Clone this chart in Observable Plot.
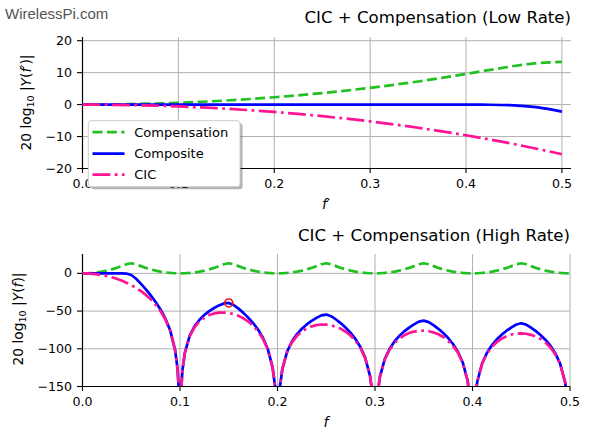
<!DOCTYPE html>
<html>
<head>
<meta charset="utf-8">
<script src="https://cdn.jsdelivr.net/npm/d3@7"></script>
<script src="https://cdn.jsdelivr.net/npm/@observablehq/plot@0.6"></script>
<style>
  html, body { margin: 0; padding: 0; background: #fff; }
  #wrap { position: relative; width: 589px; height: 440px; overflow: hidden; }
  #wrap > * { position: absolute; left: 0; }
  #overlay { top: 0; pointer-events: none; }
</style>
</head>
<body>
<div id="wrap"></div>
<script>
// ---------- Low rate (top panel) ----------
const lowF = [0, 0.025, 0.05, 0.075, 0.1, 0.125, 0.15, 0.175, 0.2, 0.225, 0.25, 0.275, 0.3, 0.325, 0.35, 0.375, 0.4, 0.425, 0.45, 0.475, 0.5];
const lowComp = [0, 0.036, 0.142, 0.319, 0.568, 0.889, 1.283, 1.750, 2.294, 2.914, 3.613, 4.392, 5.254, 6.201, 7.237, 8.365, 9.589, 10.86, 12.09, 13.04, 13.35];
const lowComposite = [0, 0, 0, 0, 0, 0, 0, 0, 0, 0, 0, 0, 0, 0, 0, 0, 0, -0.05, -0.25, -0.85, -2.2];
const lowCIC = [0, -0.036, -0.142, -0.319, -0.568, -0.889, -1.283, -1.750, -2.294, -2.914, -3.613, -4.392, -5.254, -6.201, -7.237, -8.365, -9.589, -10.913, -12.344, -13.886, -15.546];

// ---------- High rate (bottom panel) ----------
const highF = [
  0, 0.005, 0.01, 0.015, 0.02, 0.025, 0.03, 0.035, 0.04, 0.045, 0.05, 0.055, 0.06, 0.065, 0.07, 0.075, 0.08, 0.085, 0.09, 0.095,
  0.0975, 0.099, 0.101, 0.1025,
  0.105, 0.11, 0.115, 0.12, 0.125, 0.13, 0.135, 0.14, 0.145, 0.15, 0.155, 0.16, 0.165, 0.17, 0.175, 0.18, 0.185, 0.19, 0.195,
  0.1975, 0.199, 0.201, 0.2025,
  0.205, 0.21, 0.215, 0.22, 0.225, 0.23, 0.235, 0.24, 0.245, 0.25, 0.255, 0.26, 0.265, 0.27, 0.275, 0.28, 0.285, 0.29, 0.295,
  0.2975, 0.3025,
  0.305, 0.31, 0.315, 0.32, 0.325, 0.33, 0.335, 0.34, 0.345, 0.35, 0.355, 0.36, 0.365, 0.37, 0.375, 0.38, 0.385, 0.39, 0.395,
  0.3975, 0.4025,
  0.405, 0.41, 0.415, 0.42, 0.425, 0.43, 0.435, 0.44, 0.445, 0.45, 0.455, 0.46, 0.465, 0.47, 0.475, 0.48, 0.485, 0.49, 0.495,
  0.4975
];
const highCIC = [
  0, -0.142, -0.568, -1.283, -2.294, -3.613, -5.254, -7.237, -9.589, -12.344, -15.546, -19.26, -23.56, -28.57, -34.46, -41.50, -50.11, -61.15, -76.45, -101.93,
  -126.78, -159.09, -159.77, -128.46,
  -105.29, -83.19, -71.30, -63.74, -58.67, -55.28, -53.16, -52.08, -51.90, -52.56, -54.05, -56.37, -59.61, -63.90, -69.49, -76.78, -86.60, -100.79, -125.23,
  -149.59, -181.6, -182.1, -150.34,
  -126.73, -103.79, -91.12, -82.82, -77.04, -73.00, -70.25, -68.58, -67.84, -67.96, -68.93, -70.76, -73.53, -77.37, -82.52, -89.40, -98.82, -112.62, -136.69,
  -160.87, -161.26,
  -137.48, -114.21, -101.20, -92.58, -86.50, -82.15, -79.12, -77.16, -76.14, -75.99, -76.69, -78.27, -80.79, -84.38, -89.29, -95.93, -105.12, -118.68, -142.53,
  -166.60, -166.76,
  -142.88, -119.39, -106.18, -97.35, -91.07, -86.52, -83.28, -81.12, -79.91, -79.57, -80.08, -81.47, -83.80, -87.21, -91.93, -98.39, -107.40, -120.78, -144.45,
  -168.43
];
const highComposite = [
  0, 0, 0, 0, 0, 0, 0, 0, 0, -0.25, -2.20, -7.17, -13.97, -21.33, -29.21, -37.89, -47.82, -59.87, -75.88, -101.79,
  -126.74, -159.05, -159.73, -128.42,
  -105.15, -82.62, -70.02, -61.45, -55.06, -50.03, -45.92, -42.49, -39.81, -39.21, -41.96, -46.78, -52.37, -58.65, -65.88, -74.49, -85.32, -100.22, -125.09,
  -149.55, -181.6, -182.1, -150.30,
  -126.59, -103.22, -89.84, -80.53, -73.43, -67.75, -63.01, -58.99, -55.75, -54.61, -56.84, -61.17, -66.29, -72.12, -78.91, -87.11, -97.54, -112.05, -136.55,
  -160.83, -161.22,
  -137.34, -113.64, -99.92, -90.29, -82.89, -76.90, -71.88, -67.57, -64.05, -62.64, -64.60, -68.68, -73.55, -79.13, -85.68, -93.64, -103.84, -118.11, -142.39,
  -166.56, -166.72,
  -142.74, -118.82, -104.90, -95.06, -87.46, -81.27, -76.04, -71.53, -67.82, -66.22, -67.99, -71.88, -76.56, -81.96, -88.32, -96.10, -106.12, -120.21, -144.31,
  -168.39
];
const highCompF = [
  0, 0.005, 0.01, 0.015, 0.02, 0.025, 0.03, 0.035, 0.04, 0.045, 0.05, 0.055, 0.06, 0.065, 0.07, 0.075, 0.08, 0.085, 0.09, 0.095,
  0.1, 0.105, 0.11, 0.115, 0.12, 0.125, 0.13, 0.135, 0.14, 0.145, 0.15, 0.155, 0.16, 0.165, 0.17, 0.175, 0.18, 0.185, 0.19, 0.195,
  0.2, 0.205, 0.21, 0.215, 0.22, 0.225, 0.23, 0.235, 0.24, 0.245, 0.25, 0.255, 0.26, 0.265, 0.27, 0.275, 0.28, 0.285, 0.29, 0.295,
  0.3, 0.305, 0.31, 0.315, 0.32, 0.325, 0.33, 0.335, 0.34, 0.345, 0.35, 0.355, 0.36, 0.365, 0.37, 0.375, 0.38, 0.385, 0.39, 0.395,
  0.4, 0.405, 0.41, 0.415, 0.42, 0.425, 0.43, 0.435, 0.44, 0.445, 0.45, 0.455, 0.46, 0.465, 0.47, 0.475, 0.48, 0.485, 0.49, 0.495,
  0.5
];
const highComp = [
  0, 0.142, 0.568, 1.283, 2.294, 3.613, 5.254, 7.237, 9.589, 12.09, 13.35, 12.09, 9.589, 7.237, 5.254, 3.613, 2.294, 1.283, 0.568, 0.142,
  0, 0.142, 0.568, 1.283, 2.294, 3.613, 5.254, 7.237, 9.589, 12.09, 13.35, 12.09, 9.589, 7.237, 5.254, 3.613, 2.294, 1.283, 0.568, 0.142,
  0, 0.142, 0.568, 1.283, 2.294, 3.613, 5.254, 7.237, 9.589, 12.09, 13.35, 12.09, 9.589, 7.237, 5.254, 3.613, 2.294, 1.283, 0.568, 0.142,
  0, 0.142, 0.568, 1.283, 2.294, 3.613, 5.254, 7.237, 9.589, 12.09, 13.35, 12.09, 9.589, 7.237, 5.254, 3.613, 2.294, 1.283, 0.568, 0.142,
  0, 0.142, 0.568, 1.283, 2.294, 3.613, 5.254, 7.237, 9.589, 12.09, 13.35, 12.09, 9.589, 7.237, 5.254, 3.613, 2.294, 1.283, 0.568, 0.142,
  0
];
const markerF = [0.15];
const markerY = [-39.2];

// ---------- Axes / labels ----------
const xTicks = [0, 0.1, 0.2, 0.3, 0.4, 0.5];
const yTicksLow = [-20, -10, 0, 10, 20];
const yTicksHigh = [-150, -100, -50, 0];
const seriesNames = ["Compensation", "Composite", "CIC"];
const titleLow = "CIC + Compensation (Low Rate)";
const titleHigh = "CIC + Compensation (High Rate)";
const watermark = "WirelessPi.com";

const GREEN = "#22c022", BLUE = "#0000ff", PINK = "#ff1493";
const LW = 2.7;
const DASH = "10,4.4", DASHDOT = "17.8,4.4,2.8,4.4";
const FONT = "DejaVu Sans, sans-serif";

const lowRows = lowF.map((f, i) => ({f, comp: lowComp[i], composite: lowComposite[i], cic: lowCIC[i]}));
const highRows = highF.map((f, i) => ({f, cic: highCIC[i], composite: highComposite[i]}));
const highCompRows = highCompF.map((f, i) => ({f, comp: highComp[i]}));
const markerRows = markerF.map((f, i) => ({f, y: markerY[i]}));

const fmtY = d => (d < 0 ? "\u2212" : "") + Math.abs(d);
const fmtX = d => d.toFixed(1);
const gridStyle = {stroke: "#b0b0b0", strokeWidth: 1, strokeOpacity: 1};
const axisCommon = {tickSize: 5, tickPadding: 5.5, label: null, stroke: "black", strokeWidth: 1.1, fontSize: 12.6};

function axesMarks(yTicks, yMin) {
  return [
    Plot.ruleX(xTicks.filter(d => d > 0), gridStyle),
    Plot.ruleY(yTicks, gridStyle),
    Plot.axisX(xTicks, {...axisCommon, tickFormat: fmtX}),
    Plot.axisY(yTicks, {...axisCommon, tickFormat: fmtY}),
    Plot.ruleX([0], {stroke: "black", strokeWidth: 1.2}),
    Plot.ruleY([yMin], {stroke: "black", strokeWidth: 1.2})
  ];
}

const topChart = Plot.plot({
  width: 589, height: 215,
  marginLeft: 82, marginRight: 18, marginTop: 37, marginBottom: 47,
  x: {domain: [0, 0.51]},
  y: {domain: [-20, 21]},
  style: {fontFamily: FONT, fontSize: "12.6px", color: "black", background: "transparent", overflow: "visible"},
  marks: [
    ...axesMarks(yTicksLow, -20),
    Plot.line(lowRows, {x: "f", y: "comp", stroke: GREEN, strokeWidth: LW, strokeDasharray: DASH, strokeLinecap: "butt"}),
    Plot.line(lowRows, {x: "f", y: "composite", stroke: BLUE, strokeWidth: LW, strokeLinecap: "butt", curve: "monotone-x"}),
    Plot.line(lowRows, {x: "f", y: "cic", stroke: PINK, strokeWidth: LW, strokeDasharray: DASHDOT, strokeLinecap: "butt"})
  ]
});
topChart.style.top = "0px";

const bottomChart = Plot.plot({
  width: 589, height: 220,
  marginLeft: 82, marginRight: 19.5, marginTop: 34, marginBottom: 54,
  x: {domain: [0, 0.5]},
  y: {domain: [-150, 25]},
  style: {fontFamily: FONT, fontSize: "12.6px", color: "black", background: "transparent", overflow: "visible"},
  marks: [
    ...axesMarks(yTicksHigh, -150),
    Plot.line(highCompRows, {x: "f", y: "comp", stroke: GREEN, strokeWidth: LW, strokeDasharray: DASH, strokeLinecap: "butt", clip: true}),
    Plot.line(highRows, {x: "f", y: "composite", stroke: BLUE, strokeWidth: LW, strokeLinecap: "butt", clip: true}),
    Plot.line(highRows, {x: "f", y: "cic", stroke: PINK, strokeWidth: LW, strokeDasharray: DASHDOT, strokeLinecap: "butt", clip: true}),
    Plot.dot(markerRows, {x: "f", y: "y", r: 4, stroke: "#ee1111", strokeWidth: 1.6, fill: "none"})
  ]
});
bottomChart.style.top = "220px";

const wrap = document.getElementById("wrap");
wrap.appendChild(topChart);
wrap.appendChild(bottomChart);

// ---------- Overlay: titles, axis labels, legend, watermark ----------
const ov = d3.create("svg").attr("id", "overlay").attr("width", 589).attr("height", 440)
  .attr("viewBox", "0 0 589 440").style("font-family", FONT);

ov.append("text").attr("x", 5).attr("y", 19).attr("fill", "#555")
  .style("font-family", "Liberation Sans, Arial, sans-serif").style("font-size", "15px").text(watermark);
ov.append("text").attr("x", 571).attr("y", 23).attr("text-anchor", "end").style("font-size", "16.6px").text(titleLow);
ov.append("text").attr("x", 570).attr("y", 240.7).attr("text-anchor", "end").style("font-size", "16.6px").text(titleHigh);

// x labels
ov.append("text").attr("x", 326).attr("y", 209).attr("text-anchor", "middle")
  .style("font-size", "14px").style("font-style", "italic").text("f\u2032");
ov.append("text").attr("x", 326).attr("y", 427).attr("text-anchor", "middle")
  .style("font-size", "14px").style("font-style", "italic").text("f");

// y labels
function yLabel(x, y, prime) {
  const t = ov.append("text").attr("transform", `translate(${x},${y}) rotate(-90)`)
    .attr("text-anchor", "middle").style("font-size", "13.8px");
  t.append("tspan").text("20 log");
  t.append("tspan").attr("dy", 3).style("font-size", "9.5px").text("10");
  t.append("tspan").attr("dy", -3).text("\u00a0|");
  t.append("tspan").style("font-style", "italic").text("Y");
  t.append("tspan").text("(");
  t.append("tspan").style("font-style", "italic").text(prime ? "f\u2032" : "f");
  t.append("tspan").text(")|");
}
yLabel(30.5, 102.5, true);
yLabel(22.7, 319, false);

// legend
const lg = ov.append("g");
lg.append("rect").attr("x", 90.8).attr("y", 123.2).attr("width", 151.7).attr("height", 66).attr("rx", 3)
  .attr("fill", "#000").attr("fill-opacity", 0.3);
lg.append("rect").attr("x", 88.3).attr("y", 120.7).attr("width", 151.7).attr("height", 66).attr("rx", 3)
  .attr("fill", "#fff").attr("stroke", "#cccccc").attr("stroke-width", 1);
const legendItems = [
  {name: seriesNames[0], color: GREEN, dash: DASH, base: 136.7},
  {name: seriesNames[1], color: BLUE, dash: null, base: 158.3},
  {name: seriesNames[2], color: PINK, dash: DASHDOT, base: 179.3}
];
for (const it of legendItems) {
  const ln = lg.append("line").attr("x1", 92.5).attr("x2", 124.5).attr("y1", it.base - 4.6).attr("y2", it.base - 4.6)
    .attr("stroke", it.color).attr("stroke-width", LW).attr("stroke-linecap", "butt");
  if (it.dash) ln.attr("stroke-dasharray", it.dash);
  lg.append("text").attr("x", 134.3).attr("y", it.base).style("font-size", "13px").text(it.name);
}
wrap.appendChild(ov.node());
</script>
</body>
</html>
